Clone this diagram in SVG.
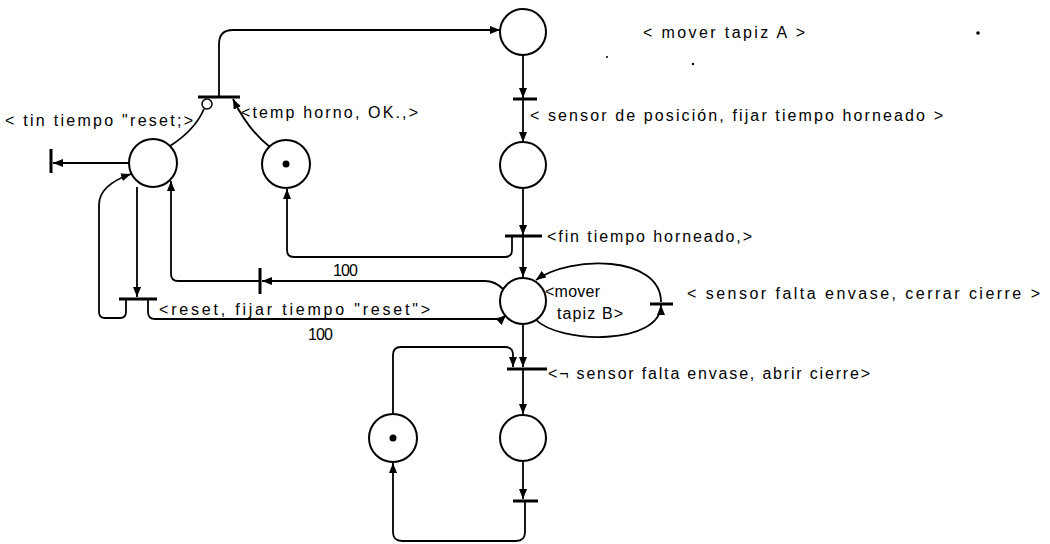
<svg xmlns="http://www.w3.org/2000/svg" width="1050" height="544" viewBox="0 0 1050 544">
<style>
.pl{fill:#fff;stroke:#000;stroke-width:2}
.tk{fill:#000}
.bar{stroke:#000;stroke-width:3;fill:none}
.arc{fill:none;stroke:#000;stroke-width:1.8}
.arw{marker-end:url(#ah)}
text{font-family:"Liberation Sans",Arial,sans-serif;font-size:16px;fill:#000}
</style>
<defs>
<marker id="ah" markerUnits="userSpaceOnUse" markerWidth="10" markerHeight="8" refX="10" refY="4" orient="auto">
<path d="M0,0 L10,4 L0,8 z" fill="#000"/>
</marker>
</defs>
<rect width="1050" height="544" fill="#fff"/>
<g id="connectors">
<path class="arc arw" d="M219,97 V44 Q219,30 233,30 H500"/>
<path class="arc arw" d="M523,55 V98"/>
<path class="arc arw" d="M523,99 V142"/>
<path class="arc arw" d="M523,188 V235"/>
<path class="arc arw" d="M523,236 V277"/>
<path class="arc arw" d="M512,236 V250 Q512,257 505,257 H294 Q287,257 287,250 V189"/>
<path class="arc arw" d="M270,147 Q248,130 233,99"/>
<path class="arc" d="M170,146 Q195,130 204,109"/>
<path class="arc arw" d="M129,163 H53"/>
<path class="arc arw" d="M137,187 V297"/>
<path class="arc arw" d="M126,299 V312 Q126,318 120,318 H105 Q99,318 99,312 V205 Q99,185 131,174"/>
<path class="arc arw" d="M148,299 V312 Q148,319 155,319 H496 Q502,319 506,315"/>
<path class="arc arw" d="M503,289 Q495,281 485,281 H262"/>
<path class="arc arw" d="M260,281 H178 Q171,281 171,274 V181"/>
<path class="arc arw" d="M535,319 C560,345 661,345 661,305"/>
<path class="arc arw" d="M661,302 C661,255 570,255 536,280"/>
<path class="arc arw" d="M523,324 V367"/>
<path class="arc arw" d="M393,414 V355 Q393,347 401,347 H505 Q513,347 513,355 V367"/>
<path class="arc arw" d="M523,369 V414"/>
<path class="arc arw" d="M523,461 V499"/>
<path class="arc arw" d="M525,501 V532 Q525,541 516,541 H402 Q393,541 393,532 V463"/>
</g>
<g id="T_top"><line class="bar" x1="198" y1="97" x2="240" y2="97"/><circle cx="207" cy="104" r="5" fill="#fff" stroke="#000" stroke-width="1.5"/></g>
<g id="T_fin_reset"><line class="bar" x1="51" y1="149" x2="51" y2="173"/></g>
<g id="T_sensor_pos"><line class="bar" x1="513" y1="99" x2="537" y2="99"/></g>
<g id="T_fin_horneado"><line class="bar" x1="505" y1="236" x2="542" y2="236"/></g>
<g id="T_100"><line class="bar" x1="260" y1="268" x2="260" y2="294"/></g>
<g id="T_reset"><line class="bar" x1="119" y1="299" x2="157" y2="299"/></g>
<g id="T_cerrar"><line class="bar" x1="650" y1="304" x2="673" y2="304"/></g>
<g id="T_abrir"><line class="bar" x1="507" y1="369" x2="547" y2="369"/></g>
<g id="T_bot"><line class="bar" x1="513" y1="501" x2="538" y2="501"/></g>
<g id="P_A"><circle class="pl" cx="523" cy="32" r="23"/></g>
<g id="P_horno"><circle class="pl" cx="523" cy="165" r="23"/></g>
<g id="P_reset"><circle class="pl" cx="153" cy="163" r="24"/></g>
<g id="P_temp"><circle class="pl" cx="286" cy="164" r="24"/><circle class="tk" cx="286" cy="164" r="3.5"/></g>
<g id="P_B"><circle class="pl" cx="523" cy="301" r="23"/></g>
<g id="P_bot_right"><circle class="pl" cx="523" cy="438" r="23"/></g>
<g id="P_bot_left"><circle class="pl" cx="393" cy="438" r="24"/><circle class="tk" cx="393" cy="438" r="3.5"/></g>
<g id="labels">
<text x="5" y="126" textLength="188" lengthAdjust="spacing">&lt; tin tiempo "reset;&gt;</text>
<text x="241" y="118" textLength="177" lengthAdjust="spacing">&lt;temp horno, OK.,&gt;</text>
<text x="643" y="38" textLength="162" lengthAdjust="spacing">&lt; mover tapiz A &gt;</text>
<text x="530" y="121" textLength="413" lengthAdjust="spacing">&lt; sensor de posición, fijar tiempo horneado &gt;</text>
<text x="547" y="242" textLength="205" lengthAdjust="spacing">&lt;fin tiempo horneado,&gt;</text>
<text x="333" y="276" textLength="25" lengthAdjust="spacing">100</text>
<text x="159" y="315" textLength="271" lengthAdjust="spacing">&lt;reset, fijar tiempo "reset"&gt;</text>
<text x="308" y="340" textLength="25" lengthAdjust="spacing">100</text>
<text x="545" y="297" textLength="55" lengthAdjust="spacing">&lt;mover</text>
<text x="557" y="319" textLength="66" lengthAdjust="spacing">tapiz B&gt;</text>
<text x="687" y="299" textLength="353" lengthAdjust="spacing">&lt; sensor falta envase, cerrar cierre &gt;</text>
<text x="548" y="379" textLength="322" lengthAdjust="spacing">&lt;¬ sensor falta envase, abrir cierre&gt;</text>
</g>
<g id="specks" fill="#000">
<circle cx="978" cy="33" r="1.8"/>
<circle cx="607" cy="57" r="1"/>
<circle cx="693" cy="64" r="1.2"/>
</g>
</svg>
